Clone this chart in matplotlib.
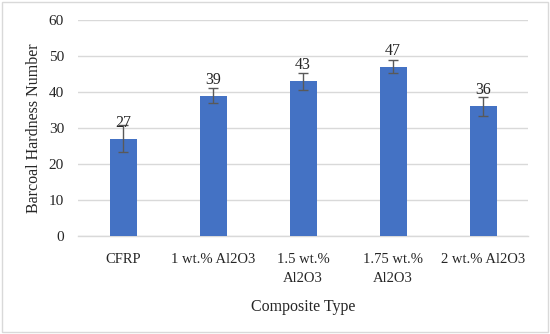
import matplotlib
matplotlib.use("Agg")
import matplotlib.pyplot as plt
from matplotlib.patches import Rectangle

categories = ["CFRP", "1 wt.% Al2O3", "1.5 wt.%\nAl2O3", "1.75 wt.%\nAl2O3", "2 wt.% Al2O3"]
values = [27, 39, 43, 47, 36]
errors = [3.8, 2.1, 2.4, 1.8, 2.7]
yticks = [0, 10, 20, 30, 40, 50, 60]

plt.rcParams['font.family'] = ['Liberation Serif', 'DejaVu Serif']

fig = plt.figure(figsize=(5.5, 3.34), dpi=100)
ax = fig.add_axes([78/550, 1 - 236/334, 450/550, 216/334])

x = list(range(len(categories)))
ax.bar(x, values, width=0.3, color="#4472C4", zorder=3)
ax.errorbar(x, values, yerr=errors, fmt="none", ecolor="#595959", elinewidth=1.0,
            capsize=3.5, capthick=1.0, zorder=4)
for xi, v in zip(x, values):
    ax.annotate(str(v), (xi, v), xytext=(0, 11.5), textcoords="offset points",
                ha="center", va="center", fontsize=11.5, color="#262626", zorder=5)

ax.set_xlim(-0.5, len(categories) - 0.5)
ax.set_ylim(0, 60)
ax.set_yticks(yticks)
ax.set_xticks(x)
ax.set_xticklabels(categories, fontsize=10.5, color="#262626", linespacing=1.6)
ax.tick_params(axis="y", labelsize=11, colors="#262626", length=0, pad=10)
ax.tick_params(axis="x", length=0, pad=12)
ax.yaxis.grid(True, color="#D9D9D9", linewidth=1.0, zorder=0)
for s in ["top", "right", "left"]:
    ax.spines[s].set_visible(False)
ax.spines["bottom"].set_color("#D9D9D9")
ax.spines["bottom"].set_linewidth(1.0)
ax.set_ylabel("Barcoal Hardness Number", fontsize=11.5, color="#262626", labelpad=5)
ax.set_xlabel("Composite Type", fontsize=11.5, color="#262626", labelpad=10)

fig.patches.append(Rectangle((2/550, 2/334), 546/550, 330/334, transform=fig.transFigure,
                             fill=False, edgecolor="#D9D9D9", linewidth=1.0))

fig.savefig("out.png", dpi=100)
